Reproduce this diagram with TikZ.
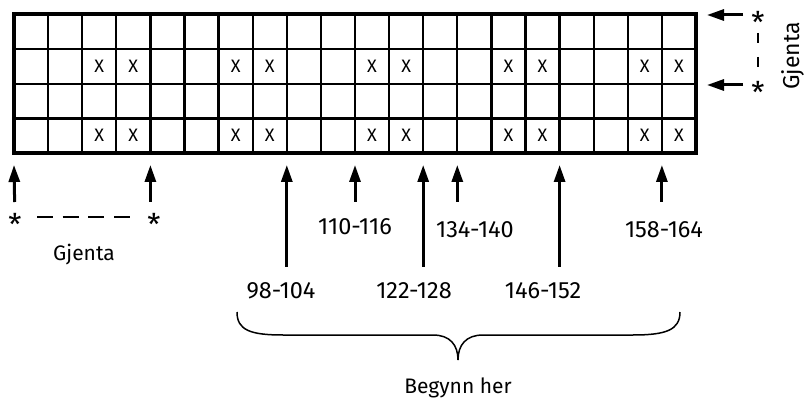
\documentclass[tikz,border=0pt]{standalone}
\usepackage{fontspec}
\setmainfont{Fira Sans}
\usetikzlibrary{arrows.meta}

\begin{document}
\begin{tikzpicture}[
        x=1pt, y=-1pt,
        pil/.style={-{Triangle[length=17pt,width=11pt]}, line width=3pt},
        tall/.style={inner sep=0pt, font=\fontsize{23.5}{28}\selectfont},
        ord/.style={anchor=base, font=\fontsize{21}{25}\selectfont},
        kryss/.style={inner sep=0pt, font=\fontsize{18}{21}\selectfont},
        stjerne/.style={inner sep=0pt, font=\fontsize{30}{34}\selectfont},
        strek/.style={line width=2.5pt}
    ]
    \useasboundingbox (0,0) rectangle (804,401);

    % rutenett, 20 x 4
    \foreach \c in {1,...,19}
        \draw [line width=2.3pt] (14+\c*34.1,14.5) -- (14+\c*34.1,153);
    \foreach \r in {1,2,3}
        \draw [line width=2.3pt] (14,14.5+\r*34.625) -- (696,14.5+\r*34.625);
    \draw [line width=4pt] (14,14.5) rectangle (696,153);
    \foreach \r in {1,3}
        \foreach \c in {2,3,6,7,10,11,14,15,18,19}
            \node [kryss] (x-\r-\c) at (14+\c*34.1+17.05,14.5+\r*34.625+17.3) {X};

    % pilspisser under rutenettet
    \foreach \c in {0,...,20}
        \coordinate (b\c) at (14+\c*34.1,165);
    \coordinate (e1) at (707,15);
    \coordinate (e2) at (707,85);

    % gjenta, venstre
    \node [stjerne] (s1) at (15,224) {*};
    \node [stjerne] (s2) at (154,224) {*};
    \draw [strek, dash pattern=on 16pt off 9.67pt, shorten <=22pt, shorten >=24pt]
        ([yshift=7pt]s1.center) -- ([yshift=7pt]s2.center);
    \draw [pil, shorten <=22pt] (s1.center) -- (b0);
    \draw [pil, shorten <=22pt] (s2.center -| b4) -- (b4);
    \node [ord] (gj1) at (84,260) {Gjenta};

    % gjenta, høyre
    \node [stjerne] (r1) at (758,22) {*};
    \node [stjerne] (r2) at (758,92) {*};
    \draw [strek, dash pattern=on 10pt off 14pt, shorten <=11pt, shorten >=25pt]
        (r1.center) -- (r2.center);
    \draw [pil, shorten <=8pt] (e1 -| r1.west) -- (e1);
    \draw [pil, shorten <=8pt] (e2 -| r2.west) -- (e2);
    \node [ord, rotate=90, font=\fontsize{23}{27}\selectfont] (gj2) at (799,56) {Gjenta};

    % maskenumre
    \node [tall] (l110) at (355,226.5) {110-116};
    \node [tall] (l134) at (475,229.5) {134-140};
    \node [tall] (l158) at (664,229.5) {158-164};
    \node [tall] (l98) at (281,290.5) {98-104};
    \node [tall] (l122) at (414,290.5) {122-128};
    \node [tall] (l146) at (543,290.5) {146-152};

    \draw [pil, shorten <=16.2pt] (l110.north -| b10) -- (b10);
    \draw [pil, shorten <=19.2pt] (l134.north -| b13) -- (b13);
    \draw [pil, shorten <=19.2pt] (l158.north -| b19) -- (b19);
    \draw [pil, shorten <=15.2pt] (l98.north -| b8) -- (b8);
    \draw [pil, shorten <=15.2pt] (l122.north -| b12) -- (b12);
    \draw [pil, shorten <=15.2pt] (l146.north -| b16) -- (b16);

    % klamme
    \draw [line width=1.5pt]
        (237,312) .. controls (237,330) and (250,335) .. (283,335) -- (433,335)
        .. controls (450,335) and (458,345) .. (458,360)
        .. controls (458,345) and (466,335) .. (483,335) -- (633,335)
        .. controls (666,335) and (680,330) .. (680,312);
    \node [ord] (start) at (458,393) {Begynn her};
\end{tikzpicture}
\end{document}
